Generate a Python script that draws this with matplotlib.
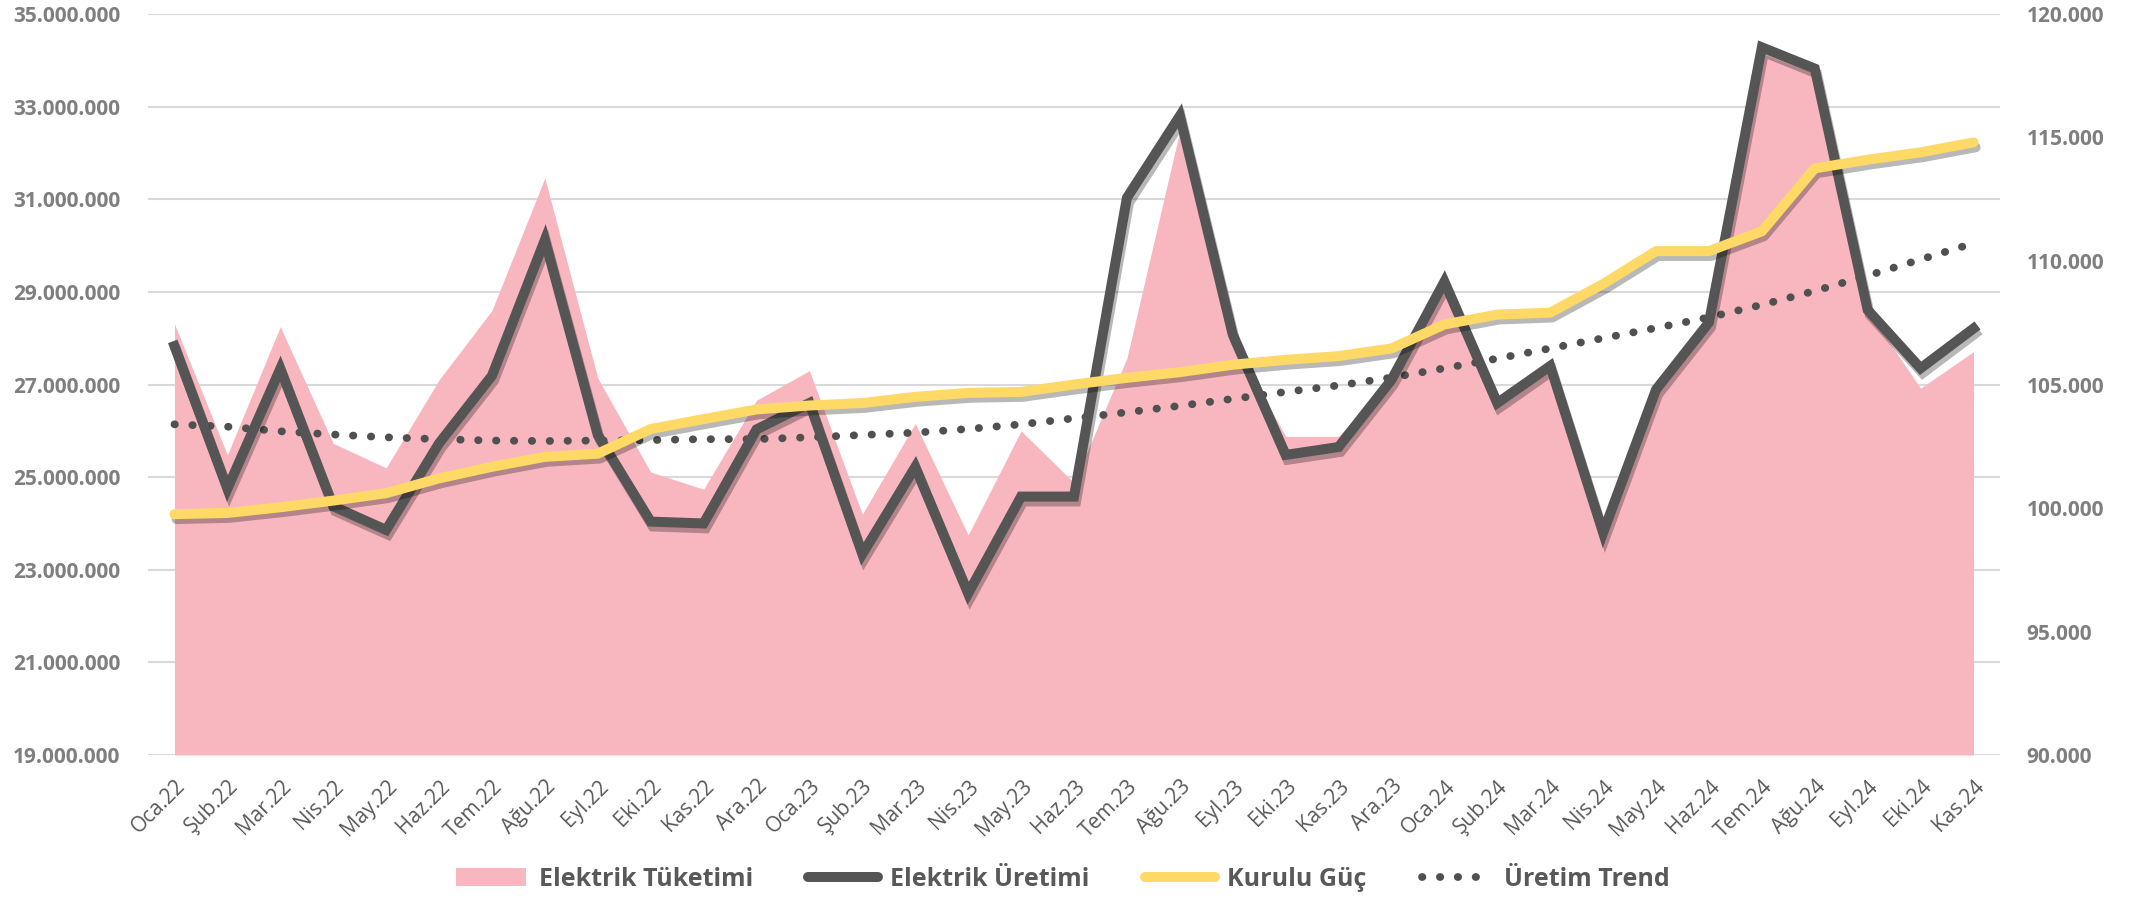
import numpy as np
import matplotlib.pyplot as plt
import matplotlib.patheffects as pe
from matplotlib.lines import Line2D
from matplotlib.patches import Patch
from matplotlib.ticker import FuncFormatter

plt.rcParams['font.family'] = ['Open Sans', 'DejaVu Sans']

aylar = ["Oca.22", "Şub.22", "Mar.22", "Nis.22", "May.22", "Haz.22", "Tem.22", "Ağu.22",
         "Eyl.22", "Eki.22", "Kas.22", "Ara.22",
         "Oca.23", "Şub.23", "Mar.23", "Nis.23", "May.23", "Haz.23", "Tem.23", "Ağu.23",
         "Eyl.23", "Eki.23", "Kas.23", "Ara.23",
         "Oca.24", "Şub.24", "Mar.24", "Nis.24", "May.24", "Haz.24", "Tem.24", "Ağu.24",
         "Eyl.24", "Eki.24", "Kas.24"]

# MWh
tuketim = [28310000, 25480000, 28250000, 25730000, 25200000, 27100000, 28600000, 31460000,
           27140000, 25110000, 24740000, 26660000, 27300000, 24200000, 26160000, 23750000,
           26000000, 24880000, 27570000, 32480000, 27950000, 25880000, 25880000, 27100000,
           29020000, 26750000, 27350000, 23950000, 26970000, 28420000, 34150000, 33720000,
           28600000, 26920000, 27710000]

uretim = [27830000, 24750000, 27340000, 24370000, 23860000, 25730000, 27190000, 30120000,
          25910000, 24040000, 24000000, 26030000, 26600000, 23340000, 25220000, 22490000,
          24580000, 24580000, 31030000, 32800000, 28080000, 25480000, 25650000, 27100000,
          29220000, 26600000, 27400000, 23800000, 26890000, 28340000, 34280000, 33820000,
          28610000, 27350000, 28210000]

uretim_trend = [26140000, 26090000, 25990000, 25920000, 25860000, 25820000, 25790000, 25780000,
                25790000, 25800000, 25820000, 25820000, 25860000, 25910000, 25960000, 26040000,
                26140000, 26270000, 26400000, 26540000, 26690000, 26840000, 26980000, 27150000,
                27350000, 27560000, 27780000, 28000000, 28220000, 28450000, 28720000, 29020000,
                29350000, 29700000, 30050000]

# MW
kurulu_guc = [99750, 99800, 100030, 100300, 100600, 101200, 101670, 102070,
              102200, 103200, 103600, 103990, 104150, 104250, 104500, 104660,
              104700, 105000, 105270, 105500, 105800, 106000, 106150, 106460,
              107430, 107830, 107910, 109070, 110400, 110400, 111200, 113750,
              114100, 114400, 114800]

pembe = '#F8B7BE'
koyu = '#555555'
sari = '#FFD966'
gri = '#7F7F7F'

x = np.arange(len(aylar))
nokta = lambda v, p: f"{v:,.0f}".replace(',', '.')
golge = [pe.SimpleLineShadow(offset=(1.5, -3.5), shadow_color='black', alpha=0.28), pe.Normal()]

fig = plt.figure(figsize=(21.39, 9.01), dpi=100)
ax = fig.add_axes([0.0692, 0.162, 0.8658, 0.8225])

ax.fill_between(x, 19000000, tuketim, color=pembe, lw=0, zorder=1)
ax.plot(x, uretim_trend, color='#505050', lw=5.6, dashes=(0.05, 2.25),
        dash_capstyle='round', zorder=2)
ax.plot(x, uretim, color=koyu, lw=7.2, solid_joinstyle='miter', zorder=3,
        path_effects=golge)

ax.set_xlim(-0.5, len(aylar) - 0.5)
ax.set_ylim(19000000, 35000000)
ax.set_yticks(np.arange(19000000, 35000001, 2000000))
ax.yaxis.set_major_formatter(FuncFormatter(nokta))
ax.grid(axis='y', color='#D9D9D9', lw=1.5, zorder=0)
ax.set_axisbelow(True)
ax.set_xticks(x)
ax.set_xticklabels(aylar, rotation=45, ha='right', va='top', rotation_mode='anchor',
                   fontsize=15, color='#595959')
ax.tick_params(axis='x', length=0, pad=15)
ax.tick_params(axis='y', length=0, pad=20, labelsize=15, labelcolor=gri)
for t in ax.get_yticklabels():
    t.set_fontweight('bold')
for s in ax.spines.values():
    s.set_visible(False)

ax2 = ax.twinx()
ax2.plot(x, kurulu_guc, color=sari, lw=7.2, solid_capstyle='round', solid_joinstyle='round',
         path_effects=golge)
ax2.set_ylim(90000, 120000)
ax2.set_yticks(np.arange(90000, 120001, 5000))
ax2.yaxis.set_major_formatter(FuncFormatter(nokta))
ax2.tick_params(axis='y', length=0, pad=19, labelsize=15, labelcolor=gri)
for t in ax2.get_yticklabels():
    t.set_fontweight('bold')
for s in ax2.spines.values():
    s.set_visible(False)

tutamaclar = [
    Patch(facecolor=pembe, edgecolor='none'),
    Line2D([], [], color=koyu, lw=7.2, solid_capstyle='round'),
    Line2D([], [], color=sari, lw=7.2, solid_capstyle='round'),
    Line2D([], [], color='#505050', lw=5.6, dashes=(0.05, 2.25), dash_capstyle='round'),
]
etiketler = ["Elektrik Tüketimi", "Elektrik Üretimi", "Kurulu Güç", "Üretim Trend"]
fig.legend(tutamaclar, etiketler, loc='center', bbox_to_anchor=(0.497, 0.024), ncol=4,
           frameon=False, handlelength=2.8, handletextpad=0.5, columnspacing=2.2,
           prop={'weight': 'bold', 'size': 18}, labelcolor='#595959')

fig.savefig('out.png', dpi=100)
